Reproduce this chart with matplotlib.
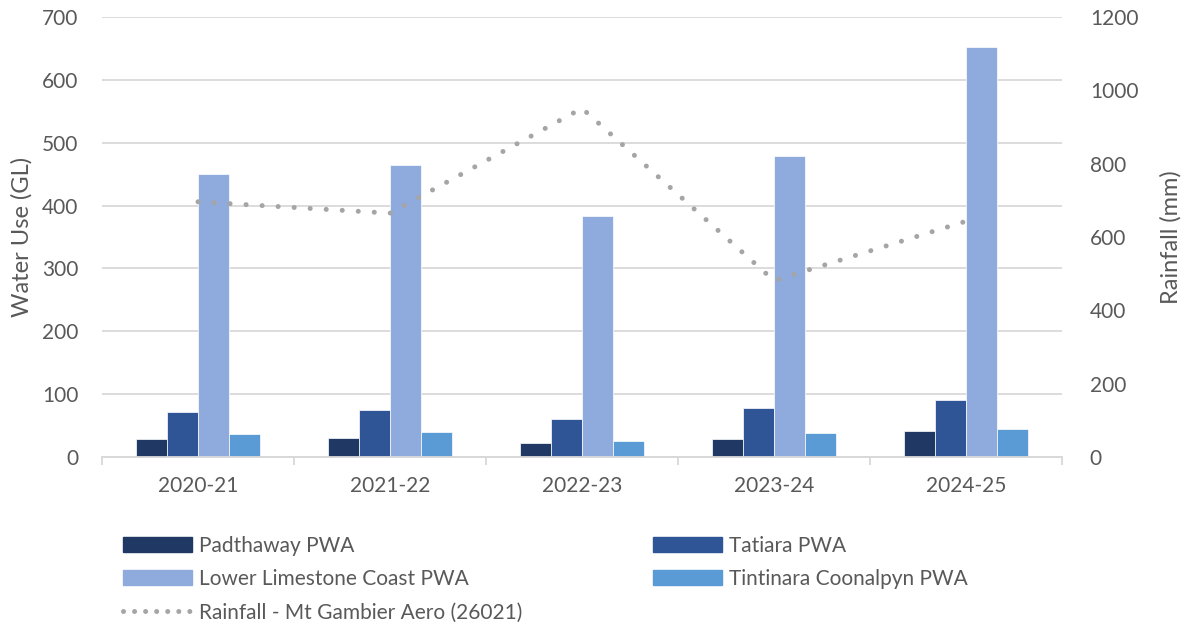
import numpy as np
import matplotlib.pyplot as plt
from matplotlib.lines import Line2D
from matplotlib.patches import Patch

plt.rcParams['font.family'] = ['Lato', 'DejaVu Sans']

years = ['2020-21', '2021-22', '2022-23', '2023-24', '2024-25']
padthaway = [28, 30, 23, 29, 42]
tatiara = [72, 74, 60, 78, 91]
lower_limestone = [450, 465, 384, 479, 652]
tintinara = [37, 39, 26, 38, 44]
rainfall = [696, 665, 951, 481, 643]

series = [('Padthaway PWA', padthaway, '#203864'),
          ('Tatiara PWA', tatiara, '#2F5597'),
          ('Lower Limestone Coast PWA', lower_limestone, '#8FAADC'),
          ('Tintinara Coonalpyn PWA', tintinara, '#5B9BD5')]

txt = '#595959'
grid = '#D9D9D9'
fs = 15

fig = plt.figure(figsize=(11.9, 6.28), dpi=100)
ax = fig.add_axes([102/1190, 1-457/628, 960/1190, 440/628])
ax2 = ax.twinx()

x = np.arange(len(years))
w = 0.162
for i, (name, vals, col) in enumerate(series):
    ax.bar(x + (i-1.5)*w, vals, w, color=col, edgecolor='white', linewidth=0.5, zorder=3)

ax2.plot(x, rainfall, color='#A5A5A5', lw=3.6, linestyle=(0, (0.01, 3.2)),
         dash_capstyle='round', zorder=4)

ax.set_xlim(-0.5, len(years)-0.5)
ax.set_ylim(0, 700)
ax.set_yticks(range(0, 701, 100))
ax2.set_ylim(0, 1200)
ax2.set_yticks(range(0, 1201, 200))
ax.grid(axis='y', color=grid, lw=1.3, zorder=0)
ax.set_axisbelow(True)

for a in (ax, ax2):
    for s in ('top', 'left', 'right'):
        a.spines[s].set_visible(False)
    a.spines['bottom'].set_color(grid)
    a.spines['bottom'].set_linewidth(1.3)
    a.tick_params(axis='y', length=0, labelsize=fs, labelcolor=txt, pad=17)
ax2.tick_params(axis='y', pad=20)

ax.set_xticks(x)
ax.set_xticklabels(years)
ax.set_xticks(np.arange(-0.5, len(years), 1), minor=True)
ax.tick_params(axis='x', which='major', length=0, labelsize=fs, labelcolor=txt, pad=14)
ax.tick_params(axis='x', which='minor', length=6, color=grid, width=1.3)

ax.set_ylabel('Water Use (GL)', fontsize=fs+2, color=txt, labelpad=7)
ax2.set_ylabel('Rainfall (mm)', fontsize=fs+2, color=txt, labelpad=16)

handles = [Patch(color=series[0][2]), Patch(color=series[2][2]),
           Line2D([], [], color='#A5A5A5', lw=3.6, linestyle=(0, (0.01, 2.2)), dash_capstyle='round'),
           Patch(color=series[1][2]), Patch(color=series[3][2])]
labels = [series[0][0], series[2][0], 'Rainfall - Mt Gambier Aero (26021)', series[1][0], series[3][0]]
leg = fig.legend(handles, labels, ncol=2, loc='upper left', bbox_to_anchor=(104/1190, 1-517/628),
                 frameon=False, fontsize=fs, handlelength=3.3, handleheight=0.7,
                 handletextpad=0.35, columnspacing=6.3, labelspacing=0.64)
for t in leg.get_texts():
    t.set_color(txt)

fig.savefig('out.png', dpi=100)
